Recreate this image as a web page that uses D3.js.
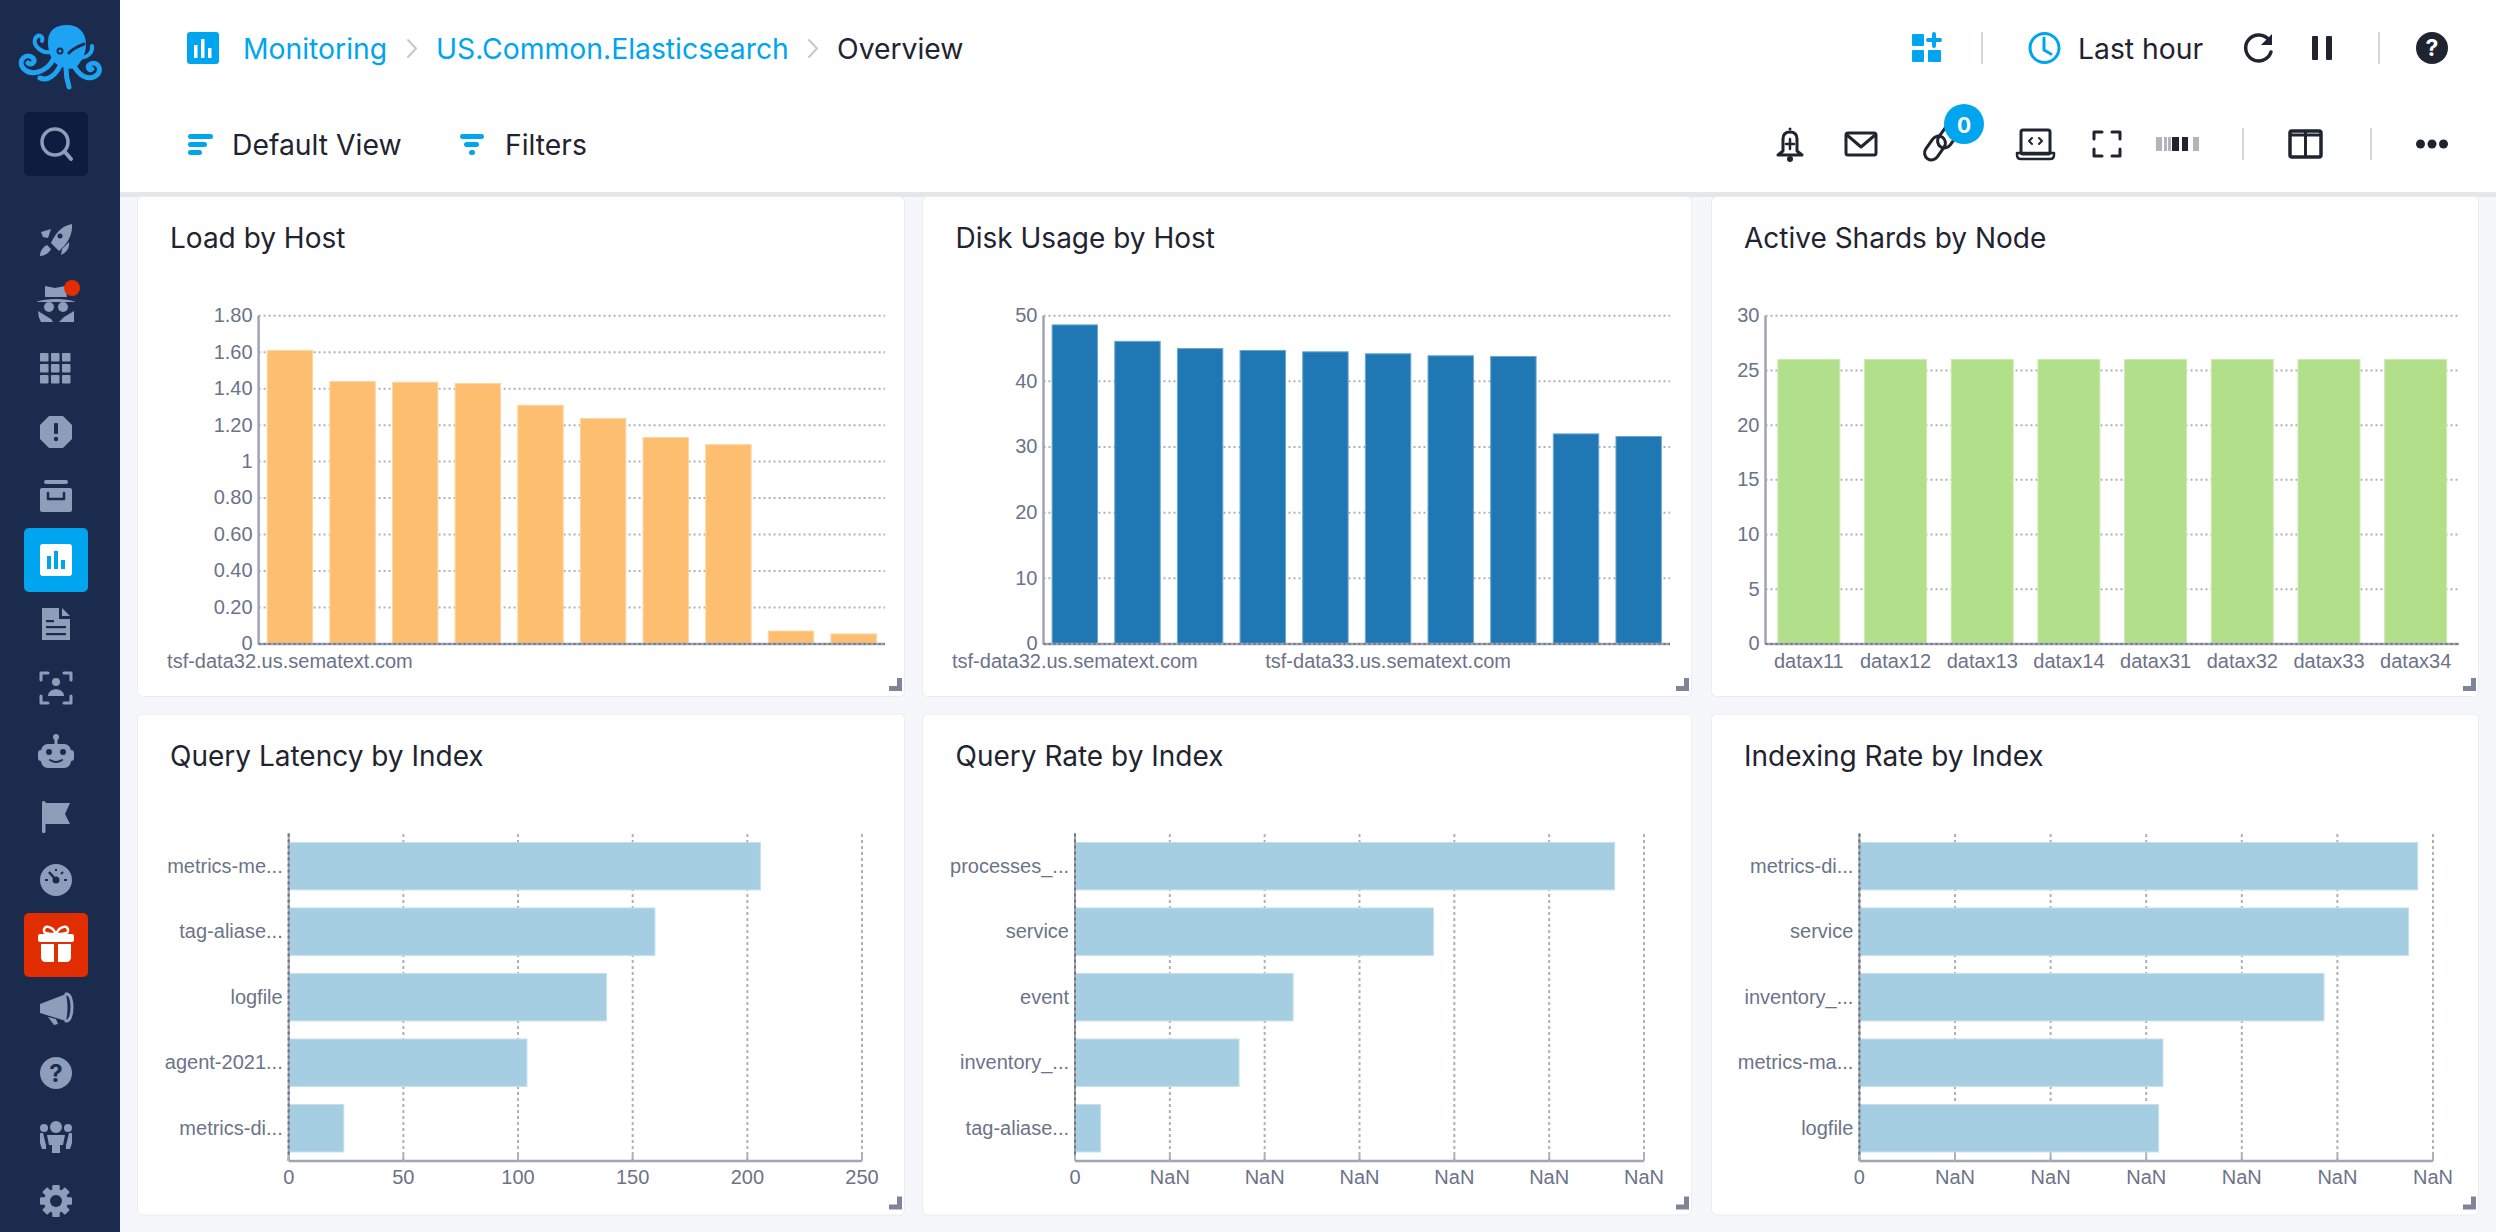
<!DOCTYPE html>
<html>
<head>
<meta charset="utf-8">
<script src="https://cdn.jsdelivr.net/npm/d3@7"></script>
<style>
  html, body { margin: 0; padding: 0; background: #f5f7fa; overflow: hidden; }
  svg { display: block; }
  .ui { font-family: Inter, "Noto Sans", sans-serif; }
  .chart text { font-family: "Liberation Sans", Arial, sans-serif; font-size: 20px; fill: #6b7389; }
</style>
</head>
<body>
<svg id="page" width="2496" height="1232"></svg>
<script>
// chart values
const loadLabels = ['tsf-data32.us.sematext.com', '', '', '', '', '', '', '', '', ''];
const loadValues = [1.609, 1.439, 1.435, 1.428, 1.309, 1.236, 1.132, 1.093, 0.071, 0.055];
const loadTicks = [0, 0.2, 0.4, 0.6, 0.8, 1, 1.2, 1.4, 1.6, 1.8];

const diskLabels = ['tsf-data32.us.sematext.com', '', '', '', '', 'tsf-data33.us.sematext.com', '', '', '', ''];
const diskValues = [48.6, 46.1, 45.0, 44.7, 44.5, 44.2, 43.9, 43.8, 32.0, 31.6];
const diskTicks = [0, 10, 20, 30, 40, 50];

const shardLabels = ['datax11', 'datax12', 'datax13', 'datax14', 'datax31', 'datax32', 'datax33', 'datax34'];
const shardValues = [26, 26, 26, 26, 26, 26, 26, 26];
const shardTicks = [0, 5, 10, 15, 20, 25, 30];

const latencyLabels = ['metrics-me...', 'tag-aliase...', 'logfile', 'agent-2021...', 'metrics-di...'];
const latencyValues = [205.7, 159.7, 138.6, 103.9, 24];
const latencyTicks = [0, 50, 100, 150, 200, 250];

// the rate axes print NaN in the original, so these are in tick steps
const queryLabels = ['processes_...', 'service', 'event', 'inventory_...', 'tag-aliase...'];
const queryValues = [5.69, 3.78, 2.30, 1.73, 0.27];
const indexingLabels = ['metrics-di...', 'service', 'inventory_...', 'metrics-ma...', 'logfile'];
const indexingValues = [5.84, 5.745, 4.86, 3.175, 3.13];
const rateTicks = [0, 1, 2, 3, 4, 5, 6];

const svg = d3.select('#page');
const GRID = '#adb1bd', AXIS = '#a0a5b5', INK = '#1f2430', BLUE = '#00a5f0';
const ICON = '#8e9db9', NAVY = '#1a2b4e';

function rect(g, x, y, w, h, fill, r) {
  return g.append('rect').attr('x', x).attr('y', y).attr('width', w).attr('height', h)
    .attr('fill', fill).attr('rx', r || 0);
}
function line(g, x1, y1, x2, y2, color, width) {
  return g.append('line').attr('x1', x1).attr('y1', y1).attr('x2', x2).attr('y2', y2)
    .attr('stroke', color).attr('stroke-width', width || 2);
}
function circle(g, x, y, r, fill) {
  return g.append('circle').attr('cx', x).attr('cy', y).attr('r', r).attr('fill', fill);
}
function path(g, d, fill, stroke, width) {
  return g.append('path').attr('d', d).attr('fill', fill || 'none')
    .attr('stroke', stroke || 'none').attr('stroke-width', width || 0)
    .attr('stroke-linecap', 'round').attr('stroke-linejoin', 'round');
}
function label(g, x, y, str, color, size, anchor, weight) {
  return g.append('text').attr('class', 'ui').attr('x', x).attr('y', y)
    .attr('dominant-baseline', 'central').attr('text-anchor', anchor || 'start')
    .attr('fill', color).attr('font-size', size).attr('font-weight', weight || 400).text(str);
}
function at(x, y) { return svg.append('g').attr('transform', `translate(${x},${y})`); }

function panel(box, title, titleX, titleY) {
  rect(svg, box.x - 0.5, box.y - 0.5, box.w + 1, box.h + 1, '#fff', 5).attr('stroke', '#e9ecf1').attr('stroke-width', 1);
  label(svg, titleX, titleY, title, INK, 28);
  const r = box.x + box.w - 2, b = box.y + box.h - 5;
  path(svg, `M${r - 13},${b} H${r} V${b - 13} H${r - 5} V${b - 5} H${r - 13} Z`, '#7f8599');
}

function columnChart(opt) {
  const y = d3.scaleLinear().domain(d3.extent(opt.ticks)).range([opt.bottom, opt.top]);
  const x = d3.scaleBand().domain(d3.range(opt.values.length))
    .range([opt.left, opt.right]).paddingInner(opt.gap).paddingOuter(opt.gap / 2);
  const g = svg.append('g').attr('class', 'chart');

  const grid = g.append('g').attr('transform', `translate(${opt.left},0)`)
    .call(d3.axisLeft(y).offset(0).tickValues(opt.ticks).tickSize(-(opt.right - opt.left)).tickFormat(''));
  grid.select('.domain').remove();
  grid.selectAll('line').attr('stroke', GRID).attr('stroke-width', 2).attr('stroke-dasharray', '2 3');

  g.append('g').selectAll('rect').data(opt.values).join('rect')
    .attr('x', (d, i) => x(i)).attr('width', x.bandwidth())
    .attr('y', d => y(d)).attr('height', d => opt.bottom - y(d))
    .attr('fill', opt.color)
    .attr('stroke', d3.interpolateRgb(opt.color, '#fff')(0.35)).attr('stroke-width', 1);

  const yAxis = g.append('g').attr('transform', `translate(${opt.left},0)`)
    .call(d3.axisLeft(y).offset(0).tickValues(opt.ticks).tickSize(0).tickPadding(6)
      .tickFormat(d => Number.isInteger(d) ? d : d.toFixed(2)));
  yAxis.select('.domain').attr('stroke', AXIS).attr('stroke-width', 2.5);

  const xAxis = g.append('g').attr('transform', `translate(0,${opt.bottom})`)
    .call(d3.axisBottom(x).offset(0).tickSize(0).tickPadding(10).tickFormat(i => opt.labels[i]));
  xAxis.select('.domain').attr('stroke', AXIS).attr('stroke-width', 2.5);
  line(g, opt.left, opt.bottom, opt.right, opt.bottom, '#6f7488', 2).attr('stroke-dasharray', '2 3');
}

function barChart(opt) {
  const top = 833.4, bottom = 1161;
  const x = d3.scaleLinear().domain(d3.extent(opt.ticks)).range([opt.left, opt.right]);
  const y = d3.scaleBand().domain(d3.range(opt.values.length))
    .range([top, bottom]).paddingInner(0.276).paddingOuter(0.138);
  const g = svg.append('g').attr('class', 'chart');

  const grid = g.append('g').attr('transform', `translate(0,${bottom})`)
    .call(d3.axisBottom(x).offset(0).tickValues(opt.ticks).tickSize(-(bottom - top)).tickFormat(''));
  grid.select('.domain').remove();
  grid.selectAll('line').attr('stroke', GRID).attr('stroke-width', 2).attr('stroke-dasharray', '3 3');

  g.append('g').selectAll('rect').data(opt.values).join('rect')
    .attr('x', opt.left).attr('width', d => x(d) - opt.left)
    .attr('y', (d, i) => y(i)).attr('height', y.bandwidth())
    .attr('fill', '#a6cee3')
    .attr('stroke', '#c5e0ee').attr('stroke-width', 1);

  const xAxis = g.append('g').attr('transform', `translate(0,${bottom})`)
    .call(d3.axisBottom(x).offset(0).tickValues(opt.ticks).tickSize(0).tickPadding(9).tickFormat(opt.format));
  xAxis.select('.domain').attr('stroke', AXIS).attr('stroke-width', 2.5);

  const yAxis = g.append('g').attr('transform', `translate(${opt.left},0)`)
    .call(d3.axisLeft(y).offset(0).tickSize(0).tickPadding(6).tickFormat(i => opt.labels[i]));
  yAxis.select('.domain').attr('stroke', AXIS).attr('stroke-width', 2);
  line(g, opt.left, top, opt.left, bottom, '#6f7488', 2).attr('stroke-dasharray', '3 3');
  // tick stubs under the bars
  g.append('g').selectAll('line').data(opt.ticks).join('line')
    .attr('x1', d => x(d)).attr('x2', d => x(d)).attr('y1', bottom - 6).attr('y2', bottom)
    .attr('stroke', GRID).attr('stroke-width', 2);
}

// ---- page chrome ----
rect(svg, 120, 0, 2376, 192, '#fff');
rect(svg, 120, 192, 2376, 5, '#e4e6ea');

function drawSidebar() {
  rect(svg, 0, 0, 120, 1232, NAVY);
  // logo
  const logo = at(0, 0), c = '#1ea3f2';
  path(logo, 'M48,42 C48,30 56,25 67,25 C78,25 86,32 86,44 C86,56 80,62 76,68 C70,70 60,68 54,62 C50,56 48,50 48,42 Z', c);
  path(logo, 'M54,58 C46,74 30,76 23,68 C17,60 27,52 33,58 C36,62 31,66 28,63', null, c, 5);
  path(logo, 'M52,52 C42,54 33,46 35,39 C38,33 44,36 42,41', null, c, 4);
  path(logo, 'M60,66 C56,74 48,82 40,78', null, c, 5);
  path(logo, 'M66,68 C66,76 68,84 69,87', null, c, 5);
  path(logo, 'M74,66 C82,80 92,80 98,74 C103,66 94,60 89,65 C87,68 90,71 92,69', null, c, 5);
  path(logo, 'M78,58 C86,58 93,54 92,46', null, c, 4);
  circle(logo, 60, 51, 3.5, NAVY); circle(logo, 60, 51, 1.5, c);
  path(logo, 'M69,53 C73,48 79,46 84,44', null, NAVY, 3);

  rect(svg, 24, 112, 64, 64, '#0e1c40', 5);
  const s = at(56, 144);
  circle(s, -1, -2, 13, 'none').attr('stroke', ICON).attr('stroke-width', 3.5);
  line(s, 9, 8, 15, 15, ICON, 4).attr('stroke-linecap', 'round');

  rect(svg, 24, 528, 64, 64, BLUE, 5);
  rect(svg, 40, 544, 32, 32, '#fff', 3);
  rect(svg, 47, 556, 4, 13, BLUE); rect(svg, 54, 551, 4, 18, BLUE); rect(svg, 61, 560, 4, 9, BLUE);
  rect(svg, 24, 913, 64, 64, '#e22d00', 5);
  const gift = at(56, 945);
  rect(gift, -18, -11, 36, 8, '#fff', 2);
  path(gift, 'M-15,-1 H-2 V17 H-10 Q-15,17 -15,12 Z M2,-1 H15 V12 Q15,17 10,17 H2 Z', '#fff');
  path(gift, 'M0,-11 C-4,-20 -13,-20 -12,-14 C-12,-11 -6,-11 0,-11 C6,-11 12,-11 12,-14 C13,-20 4,-20 0,-11', null, '#fff', 2.5);

  // rocket
  const rocket = at(56, 240);
  path(rocket, 'M16,-16 C17,-4 10,5 3,11 L-5,3 C0,-8 6,-14 16,-16 Z', ICON);
  path(rocket, 'M-5,-11 L-15,-8 L-13,-3 L-8,-2 Z M6,9 L13,2 C14,8 10,13 5,15 Z M-9,5 L-5,9 C-7,13 -11,16 -16,16 C-16,11 -13,7 -9,5 Z', ICON);
  circle(rocket, 4, -4, 2.5, NAVY);
  // spy
  const spy = at(56, 305);
  path(spy, 'M-11,-19 L-1,-17 L9,-19 L11,-8 H-11 Z', ICON);
  path(spy, 'M-20,-3 C-10,-7 10,-7 20,-3 Z', ICON);
  circle(spy, -7, 2, 5, ICON); circle(spy, 7, 2, 5, ICON);
  path(spy, 'M-18,6 L-5,14 L-3,17 H-15 Q-18,12 -18,6 Z M18,6 V17 H3 L8,12 Z', ICON);
  circle(svg, 72, 288, 8, '#e22d00');
  // grid
  const grid = at(40, 353);
  d3.range(9).forEach(i => rect(grid, (i % 3) * 11, Math.floor(i / 3) * 11, 8.5, 8.5, ICON, 1));
  // stop sign
  const stop = at(56, 432);
  path(stop, 'M-7,-16 H7 L16,-7 V7 L7,16 H-7 L-16,7 V-7 Z', ICON);
  rect(stop, -2, -9, 4, 11, NAVY, 1); circle(stop, 0, 7, 2.2, NAVY);
  // archive
  const arch = at(56, 496);
  rect(arch, -12, -16, 24, 4, ICON, 2); rect(arch, -16, -8, 32, 24, ICON, 2);
  path(arch, 'M-8,-3 V3 H8 V-3', null, NAVY, 2.5);
  // document
  const doc = at(56, 624);
  path(doc, 'M-14,-16 H3 V-5 H14 V16 H-14 Z M6,-16 L14,-8 H6 Z', ICON);
  [-6, 0, 7].forEach((d, i) => rect(doc, -10, d + 2, i === 0 ? 8 : 20, 2.2, NAVY));
  // person in frame
  const fr = at(56, 688);
  path(fr, 'M-15,-8 V-15 H-8 M8,-15 H15 V-8 M15,8 V15 H8 M-8,15 H-15 V8', null, ICON, 3);
  circle(fr, 0, -6, 4, ICON);
  path(fr, 'M-8,8 C-8,-1 8,-1 8,8 Z', ICON);
  // bot
  const bot = at(56, 752);
  circle(bot, 0, -15, 3, ICON); rect(bot, -1.5, -14, 3, 6, ICON);
  rect(bot, -15, -8, 30, 24, ICON, 7); rect(bot, -18, -2, 36, 11, ICON, 3);
  circle(bot, -7, 0, 3, NAVY); circle(bot, 7, 0, 3, NAVY);
  path(bot, 'M-6,8 Q0,12 6,8', null, NAVY, 2);
  // flag
  const flag = at(56, 817);
  rect(flag, -14, -16, 3.5, 32, ICON, 1.5);
  path(flag, 'M-11,-14 H14 L9,-3 L14,7 H-11 Z', ICON);
  // gauge
  const gauge = at(56, 880);
  circle(gauge, 0, 0, 16, ICON); circle(gauge, 0, 0, 3.5, NAVY);
  line(gauge, 0, 0, -7, -8, NAVY, 2.5);
  line(gauge, -11, 0, -8, 0, NAVY, 2); line(gauge, 8, 0, 11, 0, NAVY, 2);
  line(gauge, 0, -11, 0, -9, NAVY, 2); line(gauge, 7, -8, 5, -6, NAVY, 2);
  // megaphone
  const mega = at(56, 1008);
  path(mega, 'M-16,-4 L10,-14 C12,-4 12,4 10,13 L-16,5 Z', ICON);
  path(mega, 'M10,-14 C18,-16 18,14 10,13', null, ICON, 3);
  path(mega, 'M-8,9 L0,11 L2,16 L-2,17 Z', ICON);
  // help
  const help = at(56, 1073);
  circle(help, 0, 0, 16, ICON);
  label(help, 0, 0, '?', NAVY, 24, 'middle', 700);
  // team
  const team = at(56, 1137);
  circle(team, 0, -10, 6, ICON); circle(team, -12, -9, 4, ICON); circle(team, 12, -9, 4, ICON);
  path(team, 'M-9,-2 H9 L7,8 L4,8 V16 H-4 V8 H-7 Z', ICON);
  path(team, 'M-16,-4 H-13 L-10,8 V12 H-14 L-16,6 Z M16,-4 H13 L10,8 V12 H14 L16,6 Z', ICON);
  // gear
  const gear = at(56, 1201);
  d3.range(8).forEach(i => rect(gear, -3.5, -16, 7, 32, ICON, 1).attr('transform', `rotate(${i * 45})`));
  circle(gear, 0, 0, 12, ICON); circle(gear, 0, 0, 6, NAVY);
}

function drawHeader() {
  rect(svg, 187, 32, 32, 32, BLUE, 3);
  rect(svg, 194, 45, 3.5, 13, '#fff'); rect(svg, 201, 39, 3.5, 19, '#fff'); rect(svg, 208, 48, 3.5, 10, '#fff');
  label(svg, 243, 49, 'Monitoring', BLUE, 28.3);
  path(svg, 'M408,40 L416,48.5 L408,57', null, '#c4c8cf', 2);
  label(svg, 436, 49, 'US.Common.Elasticsearch', BLUE, 28.3);
  path(svg, 'M809,40 L817,48.5 L809,57', null, '#c4c8cf', 2);
  label(svg, 837, 49, 'Overview', INK, 28.3);

  rect(svg, 188, 134, 25, 5, BLUE, 2.5); rect(svg, 188, 142, 19, 5, BLUE, 2.5); rect(svg, 188, 150, 14, 5, BLUE, 2.5);
  label(svg, 232, 145, 'Default View', INK, 28.3);
  rect(svg, 460, 134, 24, 5, BLUE, 2.5); rect(svg, 464, 142, 15, 5, BLUE, 2.5); rect(svg, 469, 150, 6, 5, BLUE, 2.5);
  label(svg, 505, 145, 'Filters', INK, 28.3);

  // top right row
  rect(svg, 1912, 34, 12, 12, BLUE, 1); rect(svg, 1912, 50, 12, 12, BLUE, 1); rect(svg, 1928, 50, 13, 12, BLUE, 1);
  path(svg, 'M1934,34 V46 M1928,40 H1940', null, BLUE, 4);
  [[1982, 32, 64], [2379, 32, 64], [2243, 128, 160], [2371, 128, 160]].forEach(s =>
    line(svg, s[0], s[1], s[0], s[2], '#d3d6dc', 2));
  circle(svg, 2044.5, 48, 14.5, 'none').attr('stroke', BLUE).attr('stroke-width', 3);
  path(svg, 'M2044,38 V50 L2051,54', null, BLUE, 3);
  label(svg, 2078, 49, 'Last hour', INK, 28.3);
  path(svg, 'M2269,40 A13,13 0 1 0 2271,52', null, INK, 3.5);
  path(svg, 'M2272,34 V45 H2261 Z', INK);
  rect(svg, 2312, 36, 6, 24, INK, 1); rect(svg, 2326, 36, 6, 24, INK, 1);
  circle(svg, 2432, 48, 16, INK);
  label(svg, 2432, 48, '?', '#fff', 23, 'middle', 700);

  // second row
  const bell = at(1790, 144);
  path(bell, 'M-7,7 V-5 C-7,-11 -3,-12 0,-12 C3,-12 7,-11 7,-5 V7 L12,11 H-12 Z', 'none', INK, 3);
  circle(bell, 0, -15, 1.5, INK); circle(bell, 0, 15, 3, INK);
  path(bell, 'M0,-5 V5 M-4,0 H4', null, INK, 2.5);
  rect(svg, 1846, 133, 30, 22, 'none', 2).attr('stroke', INK).attr('stroke-width', 3);
  path(svg, 'M1847,135 L1861,147 L1875,135', null, INK, 3);
  // two chain links, the badge covers the top of the upper one
  rect(svg, -13, -7, 26, 14, 'none', 7).attr('stroke', INK).attr('stroke-width', 3)
    .attr('transform', 'translate(1935,148) rotate(-55)');
  rect(svg, -13, -7, 26, 14, 'none', 7).attr('stroke', INK).attr('stroke-width', 3)
    .attr('transform', 'translate(1948,136) rotate(-55)');
  circle(svg, 1964, 124, 20, BLUE);
  label(svg, 1964, 125, '0', '#fff', 21, 'middle', 700);
  rect(svg, 2021, 130, 29, 24, 'none', 2).attr('stroke', INK).attr('stroke-width', 3);
  path(svg, 'M2017,153 H2054 V155 Q2054,159 2050,159 H2021 Q2017,159 2017,155 Z', 'none', INK, 2.5);
  path(svg, 'M2032,138 L2029,141 L2032,144 M2039,138 L2042,141 L2039,144', null, INK, 2);
  path(svg, 'M2094,139 V132 H2102 M2112,132 H2120 V139 M2120,149 V156 H2112 M2102,156 H2094 V149', null, INK, 3);
  [['#b4b5b8', 2156, 6], ['#b4b5b8', 2164, 3], ['#b4b5b8', 2168, 3], ['#1f2430', 2172, 7], ['#1f2430', 2182, 6], ['#b4b5b8', 2193, 6]]
    .forEach(b => rect(svg, b[1], 137, b[2], 14, b[0]));
  rect(svg, 2290, 131, 31, 26, 'none', 2).attr('stroke', INK).attr('stroke-width', 3.5);
  line(svg, 2305.5, 131, 2305.5, 157, INK, 3);
  line(svg, 2290, 135, 2321, 135, INK, 3);
  [2420.5, 2432, 2443.5].forEach(x => circle(svg, x, 144, 4.5, INK));
}

drawSidebar();
drawHeader();

// ---- panels ----
const topRow = { y: 197, h: 499 }, bottomRow = { y: 714.5, h: 500 };
const colA = { x: 138, w: 766 }, colB = { x: 923, w: 768 }, colC = { x: 1712, w: 766 };
const titleAX = 170, titleBX = 955.5, titleCX = 1744;

panel({ ...colA, ...topRow }, 'Load by Host', titleAX, 238);
panel({ ...colB, ...topRow }, 'Disk Usage by Host', titleBX, 238);
panel({ ...colC, ...topRow }, 'Active Shards by Node', titleCX, 238);
panel({ ...colA, ...bottomRow }, 'Query Latency by Index', titleAX, 756);
panel({ ...colB, ...bottomRow }, 'Query Rate by Index', titleBX, 756);
panel({ ...colC, ...bottomRow }, 'Indexing Rate by Index', titleCX, 756);

columnChart({ values: loadValues, labels: loadLabels, ticks: loadTicks, color: '#fdbf6f',
  left: 258.6, right: 885, top: 315.7, bottom: 644, gap: 0.275 });
columnChart({ values: diskValues, labels: diskLabels, ticks: diskTicks, color: '#1f78b4',
  left: 1043.5, right: 1670, top: 315.7, bottom: 644, gap: 0.275 });
columnChart({ values: shardValues, labels: shardLabels, ticks: shardTicks, color: '#b2df8a',
  left: 1765.5, right: 2459, top: 315.7, bottom: 644, gap: 0.285 });

const nanFormat = d => d === 0 ? '0' : 'NaN';
barChart({ values: latencyValues, labels: latencyLabels, ticks: latencyTicks, left: 288.7, right: 862, format: d => d });
barChart({ values: queryValues, labels: queryLabels, ticks: rateTicks, left: 1075, right: 1644, format: nanFormat });
barChart({ values: indexingValues, labels: indexingLabels, ticks: rateTicks, left: 1859.4, right: 2433, format: nanFormat });
</script>
</body>
</html>
